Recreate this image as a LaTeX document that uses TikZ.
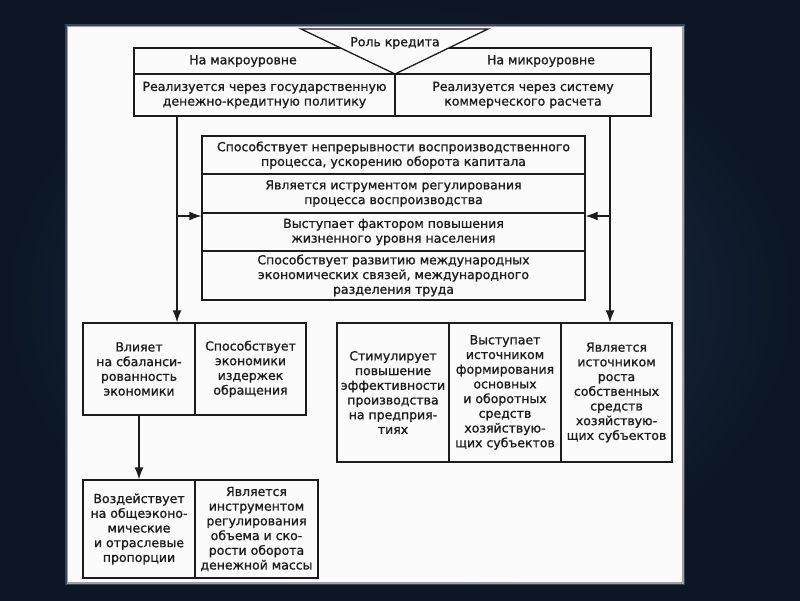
\documentclass[tikz,border=0pt]{standalone}
\usepackage{fontspec}
\setmainfont{DejaVu Sans}
\newfontfamily\inkfont{DejaVu Sans}[FakeBold=1.1]
\usetikzlibrary{arrows.meta}

\definecolor{navylight}{RGB}{32,54,82}
\definecolor{navydark}{RGB}{12,22,36}
\definecolor{ink}{RGB}{28,28,28}
\definecolor{paper}{RGB}{251,251,251}

\tikzset{
  cell/.style={draw=ink, line width=1.3pt, fill=paper, inner sep=0pt, align=center,
    text=ink, font=\inkfont\fontsize{12.5}{14.7}\selectfont},
  plaintext/.style={inner sep=0pt, align=center, text=ink, font=\inkfont\fontsize{12.5}{14.7}\selectfont},
  link/.style={draw=ink, line width=1.3pt},
  arr/.style={link, -{Latex[length=12pt,width=9pt]}},
}

\begin{document}
\begin{tikzpicture}[x=1pt,y=-1pt]

\useasboundingbox (0,0) rectangle (800,600);
\shade[inner color=navylight, outer color=navydark] (0,0) rectangle (800,600);
\fill[white, opacity=0.2] (65,24) rectangle (685,585);
\fill[white, opacity=0.5] (66.5,25.5) rectangle (683.5,583.5);
\fill[paper] (68,27) rectangle (682,582);

% levels of the role of credit
\node[cell, minimum width=517, minimum height=26] (levels) at (392.5,61) {};
\node[plaintext] (macro) at (243,61) {На макроуровне};
\node[plaintext] (micro) at (541,61) {На микроуровне};

\coordinate (tl) at (301,29);
\coordinate (tr) at (488,29);
\coordinate (apex) at (395,74);
\filldraw[fill=paper, draw=ink, line width=1.3pt, line join=miter] (tl) -- (tr) -- (apex) -- cycle;
\node[plaintext] (role) at (395,43) {Роль кредита};

\node[cell, minimum width=261, minimum height=42] (realmacro) at (264.5,95)
  {Реализуется через государственную\\денежно-кредитную политику};
\node[cell, minimum width=256, minimum height=42] (realmicro) at (523,95)
  {Реализуется через систему\\коммерческого расчета};

% common functions
\node[cell, minimum width=383, minimum height=38] (stack1) at (393.5,155)
  {Способствует непрерывности воспроизводственного\\процесса, ускорению оборота капитала};
\node[cell, minimum width=383, minimum height=39] (stack2) at (393.5,193.5)
  {Является иструментом регулирования\\процесса воспроизводства};
\node[cell, minimum width=383, minimum height=38] (stack3) at (393.5,232)
  {Выступает фактором повышения\\жизненного уровня населения};
\node[cell, minimum width=383, minimum height=49] (stack4) at (393.5,275.5)
  {Способствует развитию международных\\экономических связей, международного\\разделения труда};

% macro level
\node[cell, minimum width=112, minimum height=92] (balance) at (139,369)
  {Влияет\\на сбаланси-\\рованность\\экономики};
\node[cell, minimum width=111, minimum height=92] (costs) at (250.5,369)
  {Способствует\\экономики\\издержек\\обращения};

\node[cell, minimum width=112, minimum height=98] (impact) at (139,529)
  {Воздействует\\на общеэконо-\\мические\\и отраслевые\\пропорции};
\node[cell, minimum width=123, minimum height=98] (regulate) at (256.5,529)
  {Является\\инструментом\\регулирования\\объема и ско-\\рости оборота\\денежной массы};

% micro level
\node[cell, minimum width=112, minimum height=139] (stimulate) at (393,392.5)
  {Стимулирует\\повышение\\эффективности\\производства\\на предприя-\\тиях};
\node[cell, minimum width=112, minimum height=139] (funds) at (505,392.5)
  {Выступает\\источником\\формирования\\основных\\и оборотных\\средств\\хозяйствую-\\щих субъектов};
\node[cell, minimum width=111, minimum height=139] (growth) at (616.5,392.5)
  {Является\\источником\\роста\\собственных\\средств\\хозяйствую-\\щих субъектов};

% connectors
\coordinate (lbranch) at (177,216);
\coordinate (rbranch) at (610,216);

\draw[link] (realmacro.south -| lbranch) -- (lbranch);
\draw[arr] (lbranch) -- (balance.north -| lbranch);
\draw[arr] (lbranch) -- (lbranch -| stack3.west);

\draw[link] (realmicro.south -| rbranch) -- (rbranch);
\draw[arr] (rbranch) -- (growth.north -| rbranch);
\draw[arr] (rbranch) -- (rbranch -| stack3.east);

\draw[arr] (balance) -- (impact);

\end{tikzpicture}
\end{document}
